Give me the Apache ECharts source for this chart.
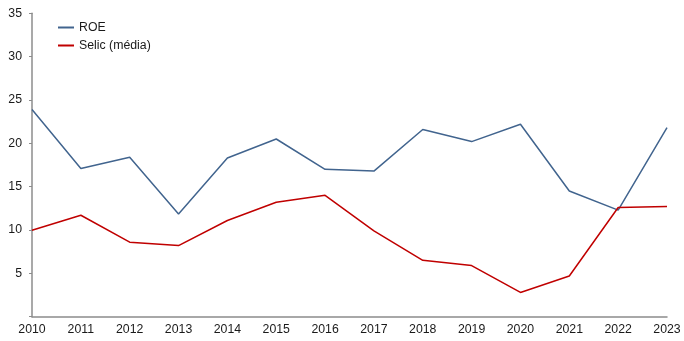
<!DOCTYPE html>
<html>
<head>
<meta charset="utf-8">
<script src="https://cdn.jsdelivr.net/npm/echarts@6/dist/echarts.min.js"></script>
<style>
html,body{margin:0;padding:0;background:#fff;}
#chart{width:684px;height:341px;}
</style>
</head>
<body>
<div id="chart"></div>
<script>
const categories = ['2010','2011','2012','2013','2014','2015','2016','2017','2018','2019','2020','2021','2022','2023'];
const roe = [23.9, 17.1, 18.4, 11.85, 18.3, 20.5, 17.0, 16.8, 21.6, 20.2, 22.2, 14.5, 12.3, 21.8];
const selic = [9.97, 11.7, 8.6, 8.2, 11.1, 13.2, 14.0, 9.9, 6.5, 5.9, 2.8, 4.7, 12.6, 12.7];
const yTicks = [5, 10, 15, 20, 25, 30, 35];

const chart = echarts.init(document.getElementById('chart'), null, {renderer: 'canvas'});
const font = 'Liberation Sans, Arial, sans-serif';
chart.setOption({
  animation: false,
  backgroundColor: '#ffffff',
  grid: {left: 32, right: 17, top: 13.3, bottom: 24.3, containLabel: false},
  legend: {
    orient: 'vertical',
    left: 53,
    top: 16.5,
    itemGap: 6,
    itemWidth: 16,
    itemHeight: 2,
    icon: 'rect',
    textStyle: {fontFamily: font, fontSize: 12.3, color: '#1a1a1a'},
    data: ['ROE', 'Selic (média)']
  },
  xAxis: {
    type: 'category',
    data: categories,
    boundaryGap: false,
    axisLine: {lineStyle: {color: '#8c8c8c', width: 1.5}},
    axisTick: {show: false},
    axisLabel: {fontFamily: font, fontSize: 12.3, color: '#1a1a1a', margin: 7}
  },
  yAxis: {
    type: 'value',
    min: 0,
    max: 35,
    interval: 5,
    splitLine: {show: false},
    axisLine: {show: true, lineStyle: {color: '#8c8c8c', width: 1.5}},
    axisTick: {show: true, length: 3, lineStyle: {color: '#8c8c8c'}},
    axisLabel: {
      fontFamily: font, fontSize: 12.3, color: '#1a1a1a', margin: 10,
      formatter: v => (yTicks.indexOf(v) >= 0 ? String(v) : '')
    }
  },
  series: [
    {
      name: 'ROE', type: 'line', data: roe, symbol: 'none',
      lineStyle: {color: '#41648e', width: 1.5}, itemStyle: {color: '#41648e'}
    },
    {
      name: 'Selic (média)', type: 'line', data: selic, symbol: 'none',
      lineStyle: {color: '#c00000', width: 1.5}, itemStyle: {color: '#c00000'}
    }
  ]
});
</script>
</body>
</html>
